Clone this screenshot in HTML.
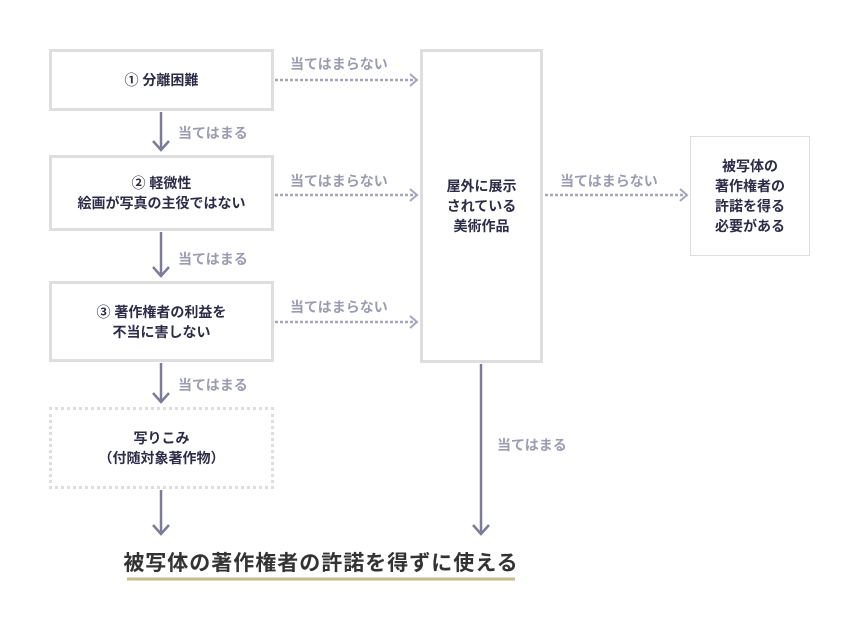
<!DOCTYPE html>
<html><head><meta charset="utf-8"><style>
body{margin:0;width:860px;height:630px;background:#fff;position:relative;font-family:"Liberation Sans","Noto Sans CJK JP",sans-serif;overflow:hidden}
.b{position:absolute;box-sizing:border-box;border:3px solid #dedede;display:flex;align-items:center;justify-content:center;text-align:center;color:#2c2c48;font-weight:bold;font-size:14px;line-height:20px}
.l{position:absolute;color:#9c9cb0;font-size:14px;font-weight:bold;white-space:nowrap}
</style></head><body>
<div class="b" style="left:49px;top:49px;width:225px;height:62px">① 分離困難</div>
<div class="b" style="left:49px;top:155px;width:225px;height:76px">② 軽微性<br>絵画が写真の主役ではない</div>
<div class="b" style="left:49px;top:281px;width:225px;height:81px">③ 著作権者の利益を<br>不当に害しない</div>
<div class="b" style="left:49px;top:407px;width:225px;height:82px;border:3px dotted #dedede">写りこみ<br>（付随対象著作物）</div>
<div class="b" style="left:420px;top:49px;width:123px;height:314px">屋外に展示<br>されている<br>美術作品</div>
<div class="b" style="left:690px;top:136px;width:120px;height:120px;border:1px solid #dedede">被写体の<br>著作権者の<br>許諾を得る<br>必要がある</div>
<div class="l" style="left:290px;top:54px">当てはまらない</div>
<div class="l" style="left:290px;top:171px">当てはまらない</div>
<div class="l" style="left:290px;top:297px">当てはまらない</div>
<div class="l" style="left:560px;top:171px">当てはまらない</div>
<div class="l" style="left:178px;top:123px">当てはまる</div>
<div class="l" style="left:178px;top:249px">当てはまる</div>
<div class="l" style="left:178px;top:375px">当てはまる</div>
<div class="l" style="left:497px;top:435px">当てはまる</div>
<svg width="860" height="630" style="position:absolute;left:0;top:0">
<g stroke="#a5a5bd" stroke-width="2.5" fill="none" stroke-dasharray="3,2">
<line x1="275" y1="80" x2="416" y2="80"/><line x1="275" y1="195" x2="416" y2="195"/><line x1="275" y1="322" x2="416" y2="322"/><line x1="545" y1="195" x2="686" y2="195"/>
</g>
<g stroke="#a5a5bd" stroke-width="2" fill="none">
<polyline points="410,74 417,80 410,86"/><polyline points="410,189 417,195 410,201"/><polyline points="410,316 417,322 410,328"/><polyline points="680,189 687,195 680,201"/>
</g>
<g stroke="#7c7c9a" stroke-width="2.5" fill="none">
<line x1="161" y1="112" x2="161" y2="150"/><polyline points="153,141 161,150 169,141"/>
<line x1="161" y1="232" x2="161" y2="276"/><polyline points="153,267 161,276 169,267"/>
<line x1="161" y1="363" x2="161" y2="402"/><polyline points="153,393 161,402 169,393"/>
<line x1="161" y1="490" x2="161" y2="534"/><polyline points="153,525 161,534 169,525"/>
<line x1="481" y1="364" x2="481" y2="534"/><polyline points="473,525 481,534 489,525"/>
</g>
<line x1="127" y1="579" x2="515" y2="579" stroke="#c9b98b" stroke-width="3"/>
</svg>
<div style="position:absolute;left:117px;top:547px;width:408px;text-align:center;font-size:21px;letter-spacing:1px;font-weight:bold;color:#333;white-space:nowrap">被写体の著作権者の許諾を得ずに使える</div>
</body></html>
